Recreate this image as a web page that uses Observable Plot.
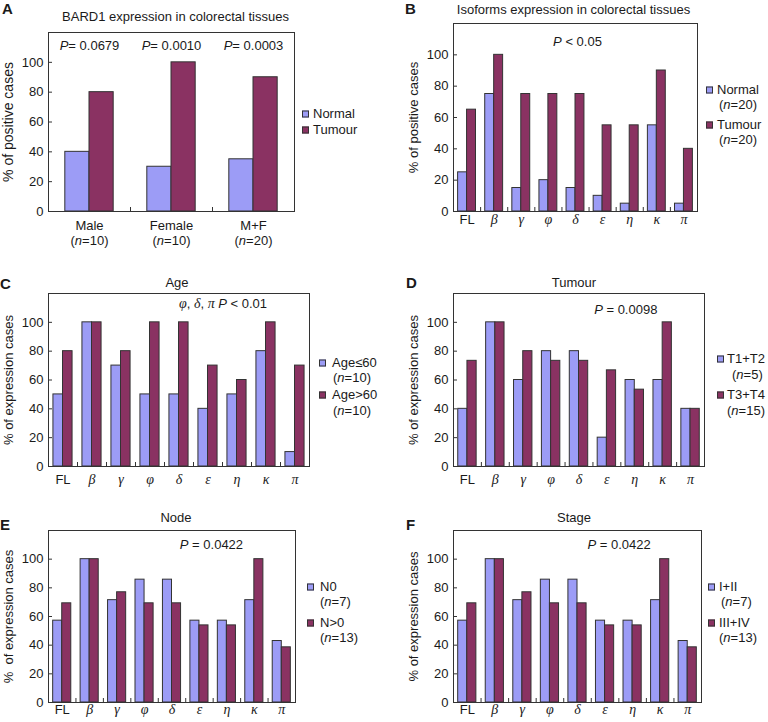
<!DOCTYPE html>
<html><head><meta charset="utf-8">
<script src="https://cdn.jsdelivr.net/npm/d3@7"></script>
<script src="https://cdn.jsdelivr.net/npm/@observablehq/plot@0.6"></script>
<style>
body{margin:0;background:#fff;}
#root{position:relative;width:768px;height:722px;overflow:hidden;font-family:"Liberation Sans",Arial,sans-serif;color:#1a1a1a;background:#fff;}
.t{position:absolute;white-space:nowrap;line-height:1;transform:translateY(-50%);font-size:13px;}
.c{transform:translate(-50%,-50%);}
.lt{font-weight:bold;font-size:15px;}
.sw{position:absolute;width:5px;height:5px;border:1px solid #333;transform:translateY(-50%);}
#root svg{position:absolute;}
</style></head><body><div id="root"></div>
<script>
// ---------- data ----------
const isoforms = ["FL", "β", "γ", "φ", "δ", "ε", "η", "κ", "π"];
const yTicks = [0, 20, 40, 60, 80, 100];

const sexCats = ["Male", "Female", "M+F"];
const sexN = ["10", "10", "20"];
const aNormal = [40, 30, 35];
const aTumour = [80, 100, 90];
const aPvalues = ["0.0679", "0.0010", "0.0003"];

const bNormal = [25, 75, 15, 20, 15, 10, 5, 55, 5];
const bTumour = [65, 100, 75, 75, 75, 55, 55, 90, 40];

const cAgeLow = [50, 100, 70, 50, 50, 40, 50, 80, 10];
const cAgeHigh = [80, 100, 80, 100, 100, 70, 60, 100, 70];

const dT12 = [40, 100, 60, 80, 80, 20, 60, 60, 40];
const dT34 = [73.3, 100, 80, 73.3, 73.3, 66.7, 53.3, 100, 40];

const eN0 = [57.1, 100, 71.4, 85.7, 85.7, 57.1, 57.1, 71.4, 42.9];
const eNpos = [69.2, 100, 76.9, 69.2, 69.2, 53.8, 53.8, 100, 38.5];

const fStage12 = [57.1, 100, 71.4, 85.7, 85.7, 57.1, 57.1, 71.4, 42.9];
const fStage34 = [69.2, 100, 76.9, 69.2, 69.2, 53.8, 53.8, 100, 38.5];

const colors = ["#9c9cf6", "#8a3262"];

// ---------- helpers ----------
const root = document.getElementById("root");
const SVGNS = "http://www.w3.org/2000/svg";

function richify(el0) {
  el0.querySelectorAll("text, tspan").forEach(el => {
    if (el.children.length) return;
    const s = el.textContent;
    if (!/[*~]/.test(s)) return;
    el.textContent = "";
    s.split(/(\*[^*]+\*|~[^~]+~)/g).forEach(part => {
      if (!part) return;
      const t = document.createElementNS(SVGNS, "tspan");
      if (part[0] === "*") {
        t.setAttribute("font-style", "italic");
        t.textContent = part.slice(1, -1);
      } else if (part[0] === "~") {
        t.setAttribute("font-style", "italic");
        t.setAttribute("font-family", "'Liberation Serif','Times New Roman',serif");
        t.setAttribute("font-size", "14");
        t.textContent = part.slice(1, -1);
      } else t.textContent = part;
      el.appendChild(t);
    });
  });
}

function addText(x, y, html, cls = "") {
  const d = document.createElement("div");
  d.className = "t " + cls;
  d.style.left = x + "px";
  d.style.top = y + "px";
  d.innerHTML = html;
  root.appendChild(d);
}

function addLegend(items) {
  items.forEach(it => {
    const s = document.createElement("div");
    s.className = "sw";
    s.style.left = it.sx + "px";
    s.style.top = it.sy + "px";
    s.style.background = it.color;
    root.appendChild(s);
    it.lines.forEach(l => addText(l.x, l.y, l.html));
  });
}

const isoLabel = c => c === "FL" ? "FL" : `~${c}~`;

function panel(cfg) {
  const ML = 48, MT = 20, MR = 4, MB = cfg.mb ?? 45;
  const {x: fx, y: fy, w: fw, h: fh} = cfg.frame;
  const n = cfg.cats.length, bw = fw / n, g = bw * cfg.gap;
  const rows = cfg.cats.flatMap((c, i) => cfg.series.map((s, j) => ({cat: c, series: s, value: cfg.values[j][i]})));
  const svg = Plot.plot({
    width: fw + ML + MR, height: fh + MT + MB,
    marginLeft: ML, marginTop: MT, marginRight: MR, marginBottom: MB,
    style: {fontFamily: "'Liberation Sans',Arial,sans-serif", fontSize: "13px", background: "transparent", overflow: "visible", color: "#1a1a1a"},
    x: {type: "band", domain: cfg.cats, padding: 0, round: false, axis: null},
    y: {domain: [0, 120], axis: null},
    color: {domain: cfg.series, range: colors},
    marks: [
      Plot.barY(rows.filter(r => r.series === cfg.series[0]), {x: "cat", y: "value", fill: "series", stroke: "#333", strokeWidth: 1, insetLeft: g, insetRight: bw / 2}),
      Plot.barY(rows.filter(r => r.series === cfg.series[1]), {x: "cat", y: "value", fill: "series", stroke: "#333", strokeWidth: 1, insetLeft: bw / 2, insetRight: g}),
      Plot.tickY(yTicks, {y: d => d, insetRight: fw - 4, stroke: "#333"}),
      Plot.text(yTicks, {y: d => d, frameAnchor: "left", dx: -5, textAnchor: "end", text: d => String(d), fontSize: 13}),
      Plot.tickX(cfg.cats.slice(0, -1), {x: d => d, dx: bw / 2, insetTop: fh - 4, stroke: "#333"}),
      Plot.text(cfg.cats, {x: d => d, frameAnchor: "bottom", lineAnchor: "top", dy: cfg.labelDy, text: cfg.labelFn, lineHeight: 1.2, fontSize: 13}),
      Plot.text([cfg.ylabel], {frameAnchor: "left", textAnchor: "middle", lineAnchor: "middle", dx: -40, rotate: -90, text: d => d, fontSize: cfg.ylabelSize || 13}),
      Plot.text(cfg.annots, {x: "x", y: "y", dx: cfg.annotDx || 0, text: "text", fontSize: 13}),
      Plot.frame({stroke: "#333", strokeWidth: 1})
    ]
  });
  svg.style.left = (fx - ML) + "px";
  svg.style.top = (fy - MT) + "px";
  richify(svg);
  root.appendChild(svg);
}

// ---------- panels ----------
panel({
  cats: sexCats, series: ["Normal", "Tumour"], values: [aNormal, aTumour],
  frame: {x: 48, y: 32, w: 246, h: 179}, gap: 0.205, labelDy: 7,
  labelFn: c => `${c}\n(*n*=${sexN[sexCats.indexOf(c)]})`,
  ylabel: "% of positive cases", ylabelSize: 14,
  annots: sexCats.map((c, i) => ({x: c, y: 111, text: `*P*= ${aPvalues[i]}`}))
});
panel({
  cats: isoforms, series: ["Normal", "Tumour"], values: [bNormal, bTumour],
  frame: {x: 453, y: 23, w: 244, h: 188}, gap: 0.17, labelDy: 1, labelFn: isoLabel,
  ylabel: "% of positive cases",
  annots: [{x: "δ", y: 108, text: "*P* < 0.05"}], annotDx: 2
});
panel({
  cats: isoforms, series: ["Age≤60", "Age>60"], values: [cAgeLow, cAgeHigh],
  frame: {x: 48, y: 293, w: 261, h: 173}, gap: 0.17, labelDy: 6, labelFn: isoLabel,
  ylabel: "% of expression cases",
  annots: [{x: "ε", y: 112.5, text: "~φ~, ~δ~, ~π~ *P* < 0.01"}], annotDx: 15
});
panel({
  cats: isoforms, series: ["T1+T2", "T3+T4"], values: [dT12, dT34],
  frame: {x: 453, y: 293, w: 251, h: 173}, gap: 0.17, labelDy: 6, labelFn: isoLabel,
  ylabel: "% of expression cases",
  annots: [{x: "η", y: 109, text: "*P* = 0.0098"}], annotDx: -9
});
panel({
  cats: isoforms, series: ["N0", "N>0"], values: [eN0, eNpos],
  frame: {x: 48, y: 530, w: 247, h: 172}, gap: 0.17, labelDy: 0, labelFn: isoLabel, mb: 20,
  ylabel: "%\u00a0\u00a0of expression cases",
  annots: [{x: "ε", y: 110, text: "*P* = 0.0422"}], annotDx: 12
});
panel({
  cats: isoforms, series: ["I+II", "III+IV"], values: [fStage12, fStage34],
  frame: {x: 453, y: 530, w: 248, h: 172}, gap: 0.17, labelDy: 0, labelFn: isoLabel, mb: 20,
  ylabel: "% of expression cases",
  annots: [{x: "ε", y: 110, text: "*P* = 0.0422"}], annotDx: 14
});

// ---------- titles & letters ----------
addText(2, 8, "A", "lt");
addText(405, 8, "B", "lt");
addText(0, 283, "C", "lt");
addText(406, 282, "D", "lt");
addText(0, 524, "E", "lt");
addText(406, 524, "F", "lt");
addText(175.5, 16, "BARD1 expression in colorectal tissues", "c");
addText(573.5, 9, "Isoforms expression in colorectal tissues", "c");
addText(177, 282, "Age", "c");
addText(574, 282, "Tumour", "c");
addText(176, 517, "Node", "c");
addText(574, 517, "Stage", "c");

// ---------- legends ----------
addLegend([
  {sx: 302, sy: 113.5, color: colors[0], lines: [{x: 313, y: 113, html: "Normal"}]},
  {sx: 302, sy: 129.5, color: colors[1], lines: [{x: 313, y: 129, html: "Tumour"}]}
]);
addLegend([
  {sx: 706, sy: 90, color: colors[0], lines: [{x: 717, y: 89, html: "Normal"}, {x: 719, y: 104, html: "(<i>n</i>=20)"}]},
  {sx: 706, sy: 125, color: colors[1], lines: [{x: 717, y: 124, html: "Tumour"}, {x: 719, y: 139, html: "(<i>n</i>=20)"}]}
]);
addLegend([
  {sx: 319, sy: 363, color: colors[0], lines: [{x: 332, y: 362, html: "Age≤60"}, {x: 333, y: 377, html: "(<i>n</i>=10)"}]},
  {sx: 319, sy: 395, color: colors[1], lines: [{x: 332, y: 394, html: "Age&gt;60"}, {x: 333, y: 410, html: "(<i>n</i>=10)"}]}
]);
addLegend([
  {sx: 717, sy: 359, color: colors[0], lines: [{x: 727, y: 358, html: "T1+T2"}, {x: 732, y: 374, html: "(<i>n</i>=5)"}]},
  {sx: 717, sy: 395, color: colors[1], lines: [{x: 727, y: 394, html: "T3+T4"}, {x: 727, y: 410, html: "(<i>n</i>=15)"}]}
]);
addLegend([
  {sx: 307, sy: 587, color: colors[0], lines: [{x: 320, y: 586, html: "N0"}, {x: 320, y: 601, html: "(<i>n</i>=7)"}]},
  {sx: 307, sy: 623, color: colors[1], lines: [{x: 320, y: 622, html: "N&gt;0"}, {x: 320, y: 637, html: "(<i>n</i>=13)"}]}
]);
addLegend([
  {sx: 708, sy: 587, color: colors[0], lines: [{x: 719, y: 586, html: "I+II"}, {x: 721, y: 601, html: "(<i>n</i>=7)"}]},
  {sx: 708, sy: 623, color: colors[1], lines: [{x: 719, y: 622, html: "III+IV"}, {x: 719, y: 637, html: "(<i>n</i>=13)"}]}
]);
</script>
</body></html>
